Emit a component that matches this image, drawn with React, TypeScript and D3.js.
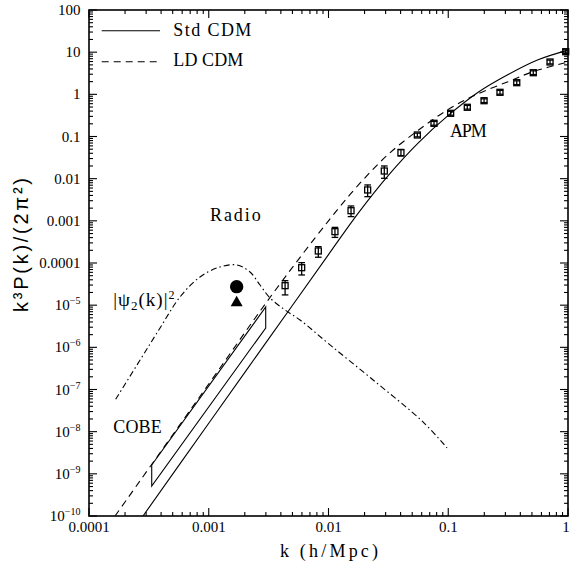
import React from 'react';
import * as d3 from 'd3';

// ---- data ----
const STD_K = [2.825e-4, 1e-3, 3.162e-3, 1e-2, 1.778e-2, 3.162e-2, 5.623e-2, 0.1, 0.1778, 0.3162, 0.5623, 1];
const STD_P = [1e-10, 1.585e-8, 1.585e-6, 1.585e-4, 1.549e-3, 1.202e-2, 7.08e-2, 0.316, 1.122, 2.951, 6.607, 11.22];

const LD_K = [1.65e-4, 1e-3, 3.36e-3, 1e-2, 1.778e-2, 3.162e-2, 5.623e-2, 0.1, 0.173, 0.316, 0.51, 1];
const LD_P = [1e-10, 1.35e-7, 1.74e-5, 1e-3, 7.1e-3, 3.8e-2, 0.141, 0.44, 1.0, 2.0, 3.44, 5.85];

const PSI_K = [1.67e-4, 2.67e-4, 3.92e-4, 5.75e-4, 8.45e-4, 1.24e-3, 1.72e-3, 2.21e-3, 2.68e-3, 3.25e-3, 4.34e-3, 5.78e-3, 1.03e-2, 2.36e-2, 6.15e-2, 9.77e-2];
const PSI_P = [5.86e-8, 5.0e-7, 2.88e-6, 1.56e-5, 4.67e-5, 8.05e-5, 8.97e-5, 6.12e-5, 3.01e-5, 1.48e-5, 7.69e-6, 4.46e-6, 1.14e-6, 1.68e-7, 1.7e-8, 4.1e-9];

const APM_K = [0.00434, 0.00597, 0.00822, 0.01132, 0.01542, 0.02123, 0.02924, 0.04027, 0.05521, 0.07603, 0.1047, 0.1442, 0.1991, 0.2704, 0.3733, 0.5129, 0.7079, 0.9572];
const APM_P = [2.9e-5, 7.74e-5, 1.93e-4, 5.53e-4, 1.74e-3, 5.4e-3, 0.0152, 0.0413, 0.1086, 0.2056, 0.3548, 0.4932, 0.7063, 1.117, 1.888, 3.258, 5.848, 10.26];
const APM_LO = [1.75e-5, 5.2e-5, 1.37e-4, 4.05e-4, 1.26e-3, 3.74e-3, 0.0102, 0.0345, 0.098, 0.185, 0.32, 0.445, 0.637, 1.007, 1.70, 2.94, 5.27, 9.25];
const APM_HI = [3.81e-5, 1.02e-4, 2.44e-4, 7.0e-4, 2.25e-3, 7.1e-3, 0.02, 0.0494, 0.12, 0.228, 0.393, 0.547, 0.783, 1.24, 2.09, 3.61, 6.48, 11.4];

const COBE_K = [3.34e-4, 2.99e-3, 2.99e-3, 3.34e-4];
const COBE_P = [1.62e-9, 9.06e-6, 2.88e-6, 5.15e-10];

const RADIO_K = [1.71e-3];
const RADIO_CIRCLE_P = [2.75e-5];
const RADIO_TRI_P = [1.21e-5];

const X_TICKS = [1e-4, 1e-3, 1e-2, 1e-1, 1];
const X_TICK_LABELS = ['0.0001', '0.001', '0.01', '0.1', '1'];
const Y_PLAIN_TICKS = [100, 10, 1, 0.1, 0.01, 0.001, 0.0001];
const Y_PLAIN_LABELS = ['100', '10', '1', '0.1', '0.01', '0.001', '0.0001'];
const Y_EXP_TICKS = [-5, -6, -7, -8, -9, -10];

const SERIF = "'Liberation Serif', 'DejaVu Serif', serif";
const SANS = "'Liberation Sans', Arial, sans-serif";

export default function App() {
  const W = 570, H = 566;
  const L = 89, R = 568, T = 10, B = 516;
  const x = d3.scaleLog().domain([1e-4, 1]).range([L, R]);
  const y = d3.scaleLog().domain([1e-10, 100]).range([B, T]);

  const line = d3.line<[number, number]>()
    .x(d => x(d[0]))
    .y(d => y(d[1]))
    .curve(d3.curveCatmullRom.alpha(0.5));

  const zip = (a: number[], b: number[]) => a.map((v, i) => [v, b[i]] as [number, number]);

  // ticks
  const xMajor: number[] = [];
  const xMinor: number[] = [];
  for (let e = -4; e <= 0; e++) {
    xMajor.push(Math.pow(10, e));
    if (e < 0) for (let m = 2; m <= 9; m++) xMinor.push(m * Math.pow(10, e));
  }
  const yMajor: number[] = [];
  const yMinor: number[] = [];
  for (let e = -10; e <= 2; e++) {
    yMajor.push(Math.pow(10, e));
    if (e < 2) for (let m = 2; m <= 9; m++) yMinor.push(m * Math.pow(10, e));
  }
  const MAJ = 8, MIN = 4;

  const tickLines: JSX.Element[] = [];
  xMajor.forEach((v, i) => {
    const px = x(v);
    tickLines.push(<line key={'xb' + i} x1={px} x2={px} y1={B} y2={B - MAJ} />);
    tickLines.push(<line key={'xt' + i} x1={px} x2={px} y1={T} y2={T + MAJ} />);
  });
  xMinor.forEach((v, i) => {
    const px = x(v);
    tickLines.push(<line key={'xbm' + i} x1={px} x2={px} y1={B} y2={B - MIN} />);
    tickLines.push(<line key={'xtm' + i} x1={px} x2={px} y1={T} y2={T + MIN} />);
  });
  yMajor.forEach((v, i) => {
    const py = y(v);
    tickLines.push(<line key={'yl' + i} x1={L} x2={L + MAJ} y1={py} y2={py} />);
    tickLines.push(<line key={'yr' + i} x1={R} x2={R - MAJ} y1={py} y2={py} />);
  });
  yMinor.forEach((v, i) => {
    const py = y(v);
    tickLines.push(<line key={'ylm' + i} x1={L} x2={L + MIN} y1={py} y2={py} />);
    tickLines.push(<line key={'yrm' + i} x1={R} x2={R - MIN} y1={py} y2={py} />);
  });

  const apm = APM_K.map((k, i) => {
    const cx = x(k);
    const cy = y(APM_P[i]);
    const ylo = y(APM_LO[i]);
    const yhi = y(APM_HI[i]);
    return (
      <g key={'apm' + i}>
        <line x1={cx} x2={cx} y1={ylo} y2={yhi} />
        <line x1={cx - 3.3} x2={cx + 3.3} y1={ylo} y2={ylo} />
        <line x1={cx - 3.3} x2={cx + 3.3} y1={yhi} y2={yhi} />
        <rect x={cx - 3} y={cy - 3} width={6} height={6} fill="none" />
      </g>
    );
  });

  const rx = x(RADIO_K[0]);
  const ryc = y(RADIO_CIRCLE_P[0]);
  const ryt = y(RADIO_TRI_P[0]);

  const cobePts = COBE_K.map((k, i) => `${x(k)},${y(COBE_P[i])}`).join(' ');

  return (
    <svg width={W} height={H} style={{ position: 'absolute', left: 0, top: 0, background: '#fff' }}>
      <rect x={0} y={0} width={W} height={H} fill="#fff" />
      <defs>
        <clipPath id="plot">
          <rect x={L} y={T} width={R - L} height={B - T} />
        </clipPath>
      </defs>

      {/* curves */}
      <g clipPath="url(#plot)" fill="none" stroke="#000" strokeWidth={1.1}>
        <path d={line(zip(STD_K, STD_P)) || ''} />
        <path d={line(zip(LD_K, LD_P)) || ''} strokeDasharray="7,5" />
        <path d={line(zip(PSI_K, PSI_P)) || ''} strokeDasharray="6,3,1.5,3" />
        <polygon points={cobePts} />
      </g>

      {/* APM points */}
      <g stroke="#000" strokeWidth={1.3} fill="none">{apm}</g>

      {/* Radio */}
      <circle cx={rx} cy={ryc} r={6.7} fill="#000" />
      <path d={`M${rx},${ryt - 6} L${rx + 6},${ryt + 4.5} L${rx - 6},${ryt + 4.5} Z`} fill="#000" />

      {/* axes frame */}
      <rect x={L} y={T} width={R - L} height={B - T} fill="none" stroke="#000" strokeWidth={1.6} />
      <g stroke="#000" strokeWidth={1.1}>{tickLines}</g>

      {/* tick labels */}
      <g fontFamily={SERIF} fontSize={15} fill="#000">
        {X_TICKS.map((v, i) => (
          <text key={'xl' + i} x={i === X_TICKS.length - 1 ? 566 : x(v)} y={532} textAnchor="middle">{X_TICK_LABELS[i]}</text>
        ))}
        {Y_PLAIN_TICKS.map((v, i) => (
          <text key={'ylp' + i} x={80.5} y={y(v) + 5} textAnchor="end">{Y_PLAIN_LABELS[i]}</text>
        ))}
        {Y_EXP_TICKS.map((e, i) => (
          <text key={'yle' + i} x={80.5} y={y(Math.pow(10, e)) + 5} textAnchor="end">
            10<tspan dy={-6} fontSize={10}>{'\u2212' + Math.abs(e)}</tspan>
          </text>
        ))}
      </g>

      {/* legend */}
      <g stroke="#000" strokeWidth={1.1}>
        <line x1={101.7} x2={160} y1={30.7} y2={30.7} />
        <line x1={101.7} x2={160} y1={61.7} y2={61.7} strokeDasharray="7,5" />
      </g>
      <g fontFamily={SERIF} fontSize={18} fill="#000">
        <text x={173.3} y={35.5} textLength={78} lengthAdjust="spacing">Std CDM</text>
        <text x={173.3} y={65.5} textLength={70} lengthAdjust="spacing">LD CDM</text>
        <text x={210} y={221} textLength={50.7} lengthAdjust="spacing">Radio</text>
        <text x={113.3} y={432.7} textLength={48.4} lengthAdjust="spacing">COBE</text>
        <text x={450} y={136.7} textLength={36.7} lengthAdjust="spacing">APM</text>
        <text x={113.3} y={306} fontSize={19} letterSpacing={1}>
          |ψ<tspan dy={4} fontSize={13}>2</tspan><tspan dy={-4}>(k)|</tspan><tspan dy={-7} fontSize={12}>2</tspan>
        </text>
        <text x={329} y={557} textAnchor="middle" textLength={98} lengthAdjust="spacing">k (h/Mpc)</text>
      </g>
      <text transform="translate(28,245) rotate(-90)" textAnchor="middle" fontFamily={SANS} fontSize={20}
        textLength={134} lengthAdjust="spacing" fill="#000">k³P(k)/(2π²)</text>
    </svg>
  );
}
